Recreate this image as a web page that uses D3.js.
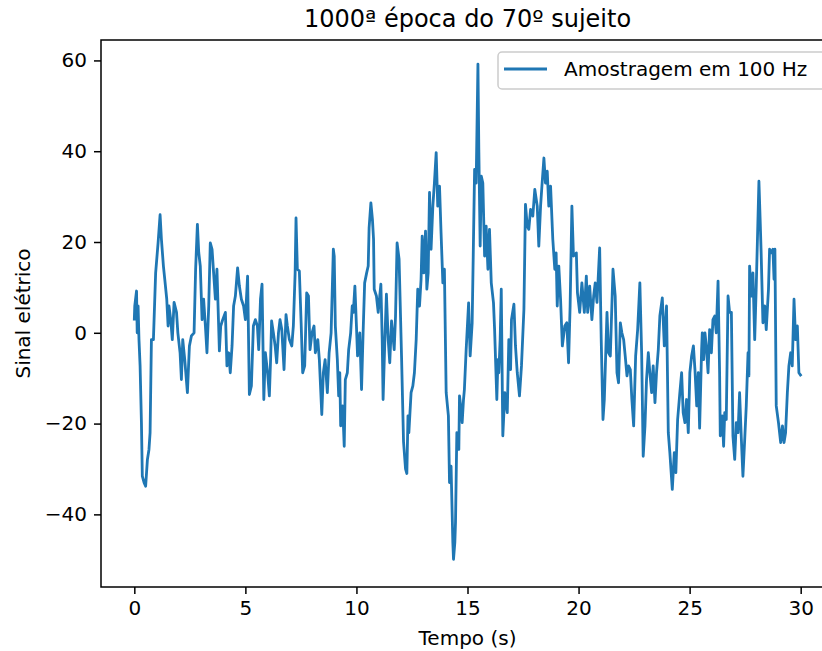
<!DOCTYPE html>
<html>
<head>
<meta charset="utf-8">
<script src="https://cdn.jsdelivr.net/npm/d3@7"></script>
<style>
  body { margin: 0; background: #fff; }
  text { font-family: "DejaVu Sans", sans-serif; fill: #000; }
</style>
</head>
<body>
<div id="lineGraph"></div>
<script>
// valores (tempo em s, sinal em unidades do eixo)
const tempo = [
  0.00, 0.02, 0.10, 0.13, 0.17, 0.21, 0.26, 0.32, 0.36, 0.44, 0.51, 0.59, 0.66, 0.71, 0.77, 0.86, 0.96, 1.07, 1.16, 1.22,
  1.31, 1.37, 1.46, 1.52, 1.56, 1.64, 1.71, 1.79, 1.90, 1.96, 2.06, 2.12, 2.18, 2.27, 2.39, 2.48, 2.57, 2.69, 2.76, 2.84,
  2.90, 2.97, 3.05, 3.12, 3.20, 3.27, 3.35, 3.42, 3.50, 3.57, 3.65, 3.72, 3.83, 3.89, 3.98, 4.10, 4.17, 4.25, 4.32, 4.40,
  4.47, 4.55, 4.65, 4.73, 4.82, 4.92, 5.00, 5.10, 5.18, 5.27, 5.36, 5.45, 5.54, 5.60, 5.68, 5.75, 5.83, 5.90, 6.00, 6.08,
  6.14, 6.18, 6.26, 6.34, 6.41, 6.49, 6.56, 6.64, 6.74, 6.83, 6.89, 6.98, 7.09, 7.16, 7.24, 7.28, 7.34, 7.43, 7.51, 7.58,
  7.67, 7.76, 7.84, 7.91, 8.00, 8.09, 8.15, 8.26, 8.33, 8.44, 8.51, 8.59, 8.69, 8.77, 8.86, 8.96, 9.00, 9.05, 9.14, 9.20,
  9.25, 9.29, 9.38, 9.45, 9.50, 9.59, 9.65, 9.74, 9.81, 9.86, 9.93, 10.00, 10.05, 10.15, 10.23, 10.30, 10.37, 10.46, 10.53, 10.57,
  10.65, 10.72, 10.77, 10.80, 10.90, 10.98, 11.10, 11.16, 11.20, 11.28, 11.35, 11.43, 11.50, 11.58, 11.70, 11.76, 11.83, 11.92, 12.03, 12.12,
  12.21, 12.27, 12.32, 12.36, 12.46, 12.54, 12.61, 12.69, 12.76, 12.84, 12.91, 12.96, 13.03, 13.11, 13.17, 13.23, 13.29, 13.36, 13.44, 13.51,
  13.59, 13.66, 13.74, 13.81, 13.89, 13.96, 14.04, 14.14, 14.19, 14.26, 14.34, 14.37, 14.43, 14.46, 14.52, 14.61, 14.64, 14.71, 14.76, 14.82,
  14.86, 14.94, 15.05, 15.12, 15.21, 15.32, 15.39, 15.47, 15.51, 15.57, 15.62, 15.69, 15.77, 15.84, 15.92, 15.99, 16.07, 16.17, 16.22, 16.32,
  16.37, 16.41, 16.47, 16.52, 16.59, 16.68, 16.79, 16.86, 16.94, 16.98, 17.09, 17.16, 17.24, 17.34, 17.43, 17.54, 17.61, 17.69, 17.76, 17.84,
  17.94, 18.03, 18.14, 18.21, 18.29, 18.36, 18.44, 18.51, 18.59, 18.66, 18.74, 18.84, 18.93, 18.99, 19.04, 19.11, 19.19, 19.27, 19.38, 19.47,
  19.55, 19.62, 19.70, 19.77, 19.90, 19.95, 20.05, 20.15, 20.26, 20.35, 20.41, 20.50, 20.60, 20.68, 20.75, 20.83, 20.95, 21.02, 21.10, 21.16,
  21.22, 21.28, 21.35, 21.43, 21.55, 21.65, 21.73, 21.80, 21.88, 21.95, 22.03, 22.10, 22.18, 22.25, 22.33, 22.40, 22.48, 22.57, 22.66, 22.76,
  22.84, 22.91, 22.99, 23.06, 23.14, 23.21, 23.29, 23.36, 23.44, 23.51, 23.59, 23.66, 23.77, 23.86, 23.96, 24.04, 24.11, 24.22, 24.31, 24.38,
  24.46, 24.56, 24.64, 24.71, 24.79, 24.86, 24.94, 25.01, 25.09, 25.17, 25.24, 25.32, 25.39, 25.45, 25.54, 25.57, 25.63, 25.69, 25.75, 25.83,
  25.90, 25.98, 26.05, 26.13, 26.20, 26.28, 26.35, 26.38, 26.47, 26.53, 26.58, 26.65, 26.73, 26.80, 26.88, 26.95, 27.03, 27.10, 27.18, 27.25,
  27.33, 27.40, 27.48, 27.55, 27.63, 27.67, 27.70, 27.78, 27.85, 27.93, 28.00, 28.12, 28.18, 28.22, 28.30, 28.38, 28.45, 28.55, 28.60, 28.69,
  28.75, 28.80, 28.84, 28.90, 29.00, 29.10, 29.18, 29.25, 29.32, 29.40, 29.47, 29.55, 29.62, 29.70, 29.77, 29.85, 29.92, 29.99
];

const sinal = [
  3.0, 5.9, 9.2, 0.0, 5.9, -1.5, -7.3, -19.7, -31.6, -33.0, -33.8, -27.9, -25.7, -22.0, -1.5, -1.5, 13.2, 19.8, 26.0, 20.6,
  14.7, 11.8, 7.4, 1.5, 5.9, 2.9, -1.5, 6.7, 4.5, 0.0, -4.4, -10.3, -1.5, -5.9, -13.2, -2.9, -0.7, 0.0, 14.0, 23.9,
  17.7, 14.7, 2.9, 7.4, 1.5, -4.4, 5.9, 19.8, 18.4, 13.2, 7.4, 14.0, -4.0, 1.5, 2.9, 4.5, -7.3, -4.4, -8.8, -2.9,
  5.9, 8.1, 14.3, 10.3, 7.4, 5.9, 2.9, 12.5, -13.6, -11.7, 1.5, 2.9, 1.5, -3.7, 7.4, 10.7, -14.7, -4.4, -8.8, -13.9,
  -5.1, 2.6, 0.0, -2.9, -6.6, 0.0, 2.9, 0.7, -8.1, 4.0, 1.5, -1.5, -2.9, 1.5, 13.2, 25.3, 14.0, 13.6, 2.2, -8.8,
  -7.3, 8.8, 8.1, -3.7, 0.0, 1.5, -4.4, -1.5, -5.9, -18.0, -8.8, -5.9, -13.2, -4.4, 0.0, 18.4, 16.9, 1.5, -5.9, -13.9,
  -8.8, -20.5, -16.1, -25.0, -10.3, -8.8, -3.7, 0.0, 5.9, 4.5, 10.3, 1.5, -5.1, 0.0, -12.5, 0.0, 11.0, 13.2, 14.7, 23.1,
  28.6, 25.0, 20.6, 9.6, 8.1, 4.5, 10.7, -1.5, -14.7, -1.5, 8.5, -1.5, -6.6, 2.6, -3.7, 3.7, 19.8, 16.2, -5.1, -24.0,
  -30.0, -31.0, -18.3, -22.0, -13.2, -11.7, -8.8, -1.5, 9.6, 5.9, 11.8, 21.3, 13.2, 22.4, 9.6, 13.2, 30.9, 18.4, 27.9, 33.0,
  39.7, 27.9, 32.3, 22.0, 11.0, 14.0, -13.2, -18.3, -33.0, -29.4, -46.2, -49.9, -46.2, -41.8, -22.0, -25.7, -13.9, -16.9, -19.8, -14.7,
  -12.5, -3.7, 6.6, -5.1, 2.2, 36.0, 33.0, 59.2, 40.4, 19.1, 34.5, 33.0, 16.9, 23.5, 14.0, 22.8, 11.0, 6.6, 0.7, -14.7,
  -5.9, -8.8, -1.5, 9.6, -22.7, -13.2, -17.6, -1.5, -8.1, 2.9, 6.3, -2.9, -8.8, -13.9, -7.3, 5.2, 28.3, 23.5, 22.8, 27.2,
  25.7, 31.6, 27.9, 19.1, 27.9, 33.0, 38.5, 33.0, 35.6, 27.9, 32.3, 20.6, 14.0, 17.6, 5.9, 14.7, 7.4, -2.9, 1.5, 2.2,
  -6.6, 5.9, 27.9, 16.9, 17.6, 8.8, 4.5, 11.0, 4.5, 12.5, 4.5, 10.3, 2.9, 8.1, 11.0, 6.7, 18.7, -1.5, -19.1, -14.7,
  -5.1, 4.5, -4.4, -5.1, 14.0, 8.1, -8.8, -11.0, 2.2, 0.0, -1.5, -5.1, -9.5, -7.3, -8.1, -14.7, -20.5, -5.1, 0.7, 11.0,
  -4.4, -27.2, -20.5, -10.3, -4.4, -8.8, -13.2, -7.3, -15.4, -8.8, -3.7, 3.7, 7.7, -2.9, 5.9, -22.0, -26.4, -34.5, -26.4, -30.8,
  -19.1, -13.2, -8.8, -17.6, -19.8, -14.7, -22.0, -8.8, -5.1, -2.9, -8.1, -16.1, -8.8, -21.0, -3.7, 0.0, -5.9, 0.0, -2.9, -8.8,
  0.7, -4.4, 2.9, 3.7, 0.0, 11.4, -8.8, -22.7, -18.3, -25.0, -17.6, -19.1, 8.1, 4.5, 4.5, -22.7, -27.9, -19.8, -22.0, -13.2,
  -23.5, -31.6, -23.5, -16.1, -4.4, -9.5, 14.7, 8.1, 13.2, -1.5, 10.3, 33.4, 24.2, 17.6, 2.2, 5.9, 0.7, 9.6, 18.4, 17.6,
  18.4, 11.8, 18.4, -16.1, -19.8, -24.2, -20.5, -24.2, -22.0, -13.2, -7.3, -4.4, -7.3, 7.4, -1.5, 1.5, -8.8, -9.3
];

const xTicks = [0, 5, 10, 15, 20, 25, 30];
const yTicks = [-40, -20, 0, 20, 40, 60];
const titulo = "1000ª época do 70º sujeito";
const legenda = "Amostragem em 100 Hz";

const W = 822, H = 651;
// the axes box runs past the right edge of the picture (cropped figure)
const margin = {top: 40, right: -12, bottom: 64, left: 101},
    width = W - margin.left - margin.right,
    height = H - margin.top - margin.bottom;

const blue = "#1f77b4";

const svg = d3.select("#lineGraph")
  .append("svg")
    .attr("width", W)
    .attr("height", H);

const g = svg.append("g")
    .attr("transform", `translate(${margin.left},${margin.top})`);

const x = d3.scaleLinear().domain([-1.5, 31.5]).range([0, width]);
const y = d3.scaleLinear().domain([-56, 64.5]).range([height, 0]);

g.append("clipPath").attr("id", "clip")
  .append("rect").attr("width", width).attr("height", height);

const data = tempo.map((t, i) => ({t: t, v: sinal[i]}));

g.append("path")
    .datum(data)
    .attr("clip-path", "url(#clip)")
    .attr("fill", "none")
    .attr("stroke", blue)
    .attr("stroke-width", 2.8)
    .attr("stroke-linejoin", "round")
    .attr("stroke-linecap", "square")
    .attr("d", d3.line().x(d => x(d.t)).y(d => y(d.v)));

// axes
const fmt = d => d < 0 ? "\u2212" + Math.abs(d) : String(d);

const xAxis = g.append("g")
    .attr("transform", `translate(0,${height})`)
    .call(d3.axisBottom(x).tickValues(xTicks).tickFormat(fmt).tickSize(7).tickPadding(7));

const yAxis = g.append("g")
    .call(d3.axisLeft(y).tickValues(yTicks).tickFormat(fmt).tickSize(7).tickPadding(7));

[xAxis, yAxis].forEach(a => {
  a.select(".domain").remove();
  a.selectAll("line").attr("stroke", "#000").attr("stroke-width", 1.5);
  a.selectAll("text")
    .style("font-family", "DejaVu Sans")
    .style("font-size", "20px")
    .attr("fill", "#000");
});
xAxis.selectAll("text").attr("dy", "0.72em");

// frame
g.append("rect")
    .attr("width", width)
    .attr("height", height)
    .attr("fill", "none")
    .attr("stroke", "#000")
    .attr("stroke-width", 1.5);

svg.append("text")
    .attr("x", margin.left + width / 2)
    .attr("y", 27)
    .attr("text-anchor", "middle")
    .style("font-size", "24px")
    .text(titulo);

svg.append("text")
    .attr("x", margin.left + width / 2)
    .attr("y", 645)
    .attr("text-anchor", "middle")
    .style("font-size", "20px")
    .text("Tempo (s)");

svg.append("text")
    .attr("transform", `translate(30,${margin.top + height / 2}) rotate(-90)`)
    .attr("text-anchor", "middle")
    .style("font-size", "20px")
    .text("Sinal elétrico");

// legend
const leg = svg.append("g");
leg.append("rect")
    .attr("x", 498)
    .attr("y", 52)
    .attr("width", 340)
    .attr("height", 37)
    .attr("rx", 4)
    .attr("fill", "#fff")
    .attr("fill-opacity", 0.8)
    .attr("stroke", "#cccccc")
    .attr("stroke-width", 1.5);
leg.append("line")
    .attr("x1", 504).attr("x2", 547)
    .attr("y1", 69).attr("y2", 69)
    .attr("stroke", blue)
    .attr("stroke-width", 2.8);
leg.append("text")
    .attr("x", 564)
    .attr("y", 76)
    .style("font-size", "20px")
    .text(legenda);
</script>
</body>
</html>
